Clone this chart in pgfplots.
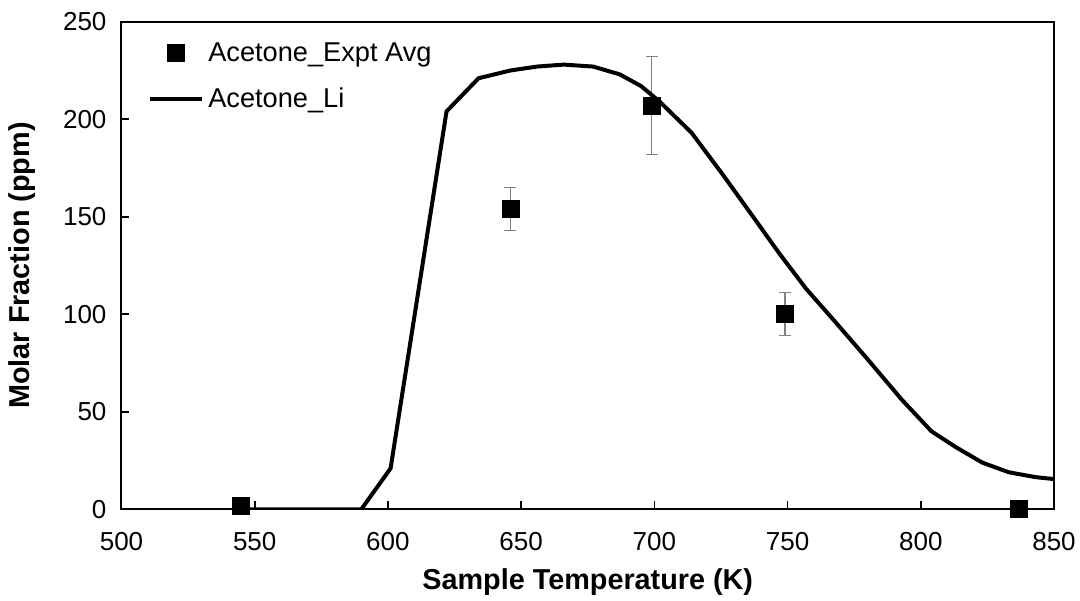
\documentclass[border=0pt]{standalone}
\usepackage{pgfplots}
\pgfplotsset{compat=1.18}
\usepackage{fontspec}
\setmainfont{Liberation Sans}
\begin{document}
\begin{tikzpicture}
\begin{axis}[
  scale only axis,
  width=466.25pt, height=243.8pt,
  xmin=500, xmax=850, ymin=0, ymax=250,
  xtick={500,550,...,850}, ytick={0,50,...,250},
  xtick pos=bottom, ytick pos=left,
  tick align=inside, major tick length=4pt,
  tick style={black, line width=0.8pt},
  axis line style={line width=1pt},
  /pgf/number format/assume math mode=true,
  tick label style={font=\fontsize{13}{15}\selectfont},
  xticklabel style={yshift=-8pt},
  yticklabel style={xshift=-4pt},
  xlabel={\bfseries Sample Temperature (K)},
  ylabel={\bfseries Molar Fraction (ppm)},
  label style={font=\fontsize{14.4}{17}\selectfont},
  xlabel style={at={(axis description cs:0.5,-0.15)}, anchor=center},
  ylabel style={at={(axis description cs:-0.1067,0.5)}, anchor=center},
  legend style={draw=none, fill=none, at={(axis description cs:0.024,0.975)}, anchor=north west,
    font=\fontsize{13.6}{16}\selectfont, row sep=8pt, inner sep=2pt},
  legend cell align=left,
]
\coordinate (sw) at (rel axis cs:0,0);
\addplot[only marks, mark=square*, mark size=4.25pt, black,
  legend image code/.code={\path[black, fill=black] (8.75pt,-4.25pt) rectangle (17.25pt,4.25pt);},
  error bars/.cd, y dir=both, y explicit,
  error bar style={gray, line width=0.6pt},
  error mark options={rotate=90, mark size=3pt, gray, line width=0.6pt}]
  coordinates {
  (545,1.5) +- (0,0)
  (646,154) +- (0,11)
  (699,207) +- (0,25)
  (749,100) +- (0,11)
  (837,0) +- (0,0)
};
\addlegendentry{Acetone\_Expt Avg}
\addplot[black, line width=2pt, mark=none, line join=round,
  legend image code/.code={\draw[black, line width=2pt] (0pt,0pt) -- (26pt,0pt);}] coordinates {
  (546,0) (590,0) (601,21) (622,204) (634,221) (646,225) (656,227) (666,228)
  (677,227) (687,223) (695,217) (702,209) (714,193) (726,171) (736,152)
  (747,131) (757,113) (767,97.5) (780,77) (793,56) (804,40)
  (813,32) (823,24) (833,19) (843,16.5) (850,15.5)
};
\addlegendentry{Acetone\_Li}
\end{axis}
\pgfresetboundingbox
\path[use as bounding box] ([shift={(-60.75pt,-45.35pt)}]sw) rectangle ++(540pt,300pt);
\end{tikzpicture}
\end{document}
